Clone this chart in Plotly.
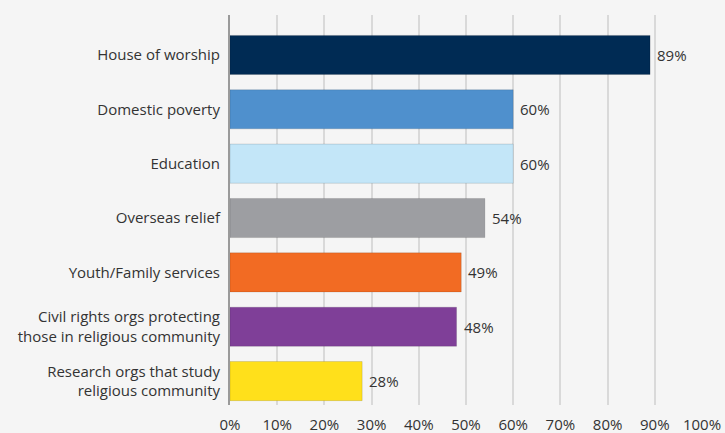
import plotly.graph_objects as go

categories = [
    "House of worship",
    "Domestic poverty",
    "Education",
    "Overseas relief",
    "Youth/Family services",
    "Civil rights orgs protecting<br>those in religious community",
    "Research orgs that study<br>religious community",
]
values = [89, 60, 60, 54, 49, 48, 28]
colors = ["#002b54", "#4f90cd", "#c3e6f8", "#9d9ea2", "#f26b23", "#7f3f98", "#ffe01b"]
x_ticks = [0, 10, 20, 30, 40, 50, 60, 70, 80, 90, 100]
x_tick_labels = [f"{t}%" for t in x_ticks]

positions = list(range(len(categories)))
FONT = "Open Sans, Liberation Sans, Arial, sans-serif"

fig = go.Figure(
    go.Bar(
        x=values,
        y=positions,
        orientation="h",
        marker=dict(color=colors, line=dict(color="rgba(0,0,0,0.12)", width=1)),
        width=0.72,
        hoverinfo="skip",
    )
)

# value labels just past the end of each bar
for pos, v in zip(positions, values):
    fig.add_annotation(
        x=v, y=pos, xref="x", yref="y",
        text=f"{v}%", showarrow=False,
        xanchor="left", yanchor="middle", xshift=5,
        font=dict(family=FONT, size=15, color="#333333"),
    )

fig.update_layout(
    width=725,
    height=433,
    margin=dict(l=230, r=23, t=15, b=28, autoexpand=False),
    paper_bgcolor="#f5f5f5",
    plot_bgcolor="#f5f5f5",
    showlegend=False,
    font=dict(family=FONT, size=15, color="#333333"),
    xaxis=dict(
        range=[0, 100],
        tickvals=x_ticks,
        ticktext=x_tick_labels,
        showgrid=True,
        gridcolor="#d9d9d9",
        gridwidth=2,
        zeroline=False,
        showline=False,
        ticks="",
        automargin=False,
        ticklabelstandoff=9,
        tickfont=dict(family=FONT, size=15, color="#333333"),
    ),
    yaxis=dict(
        range=[6.44, -0.735],
        tickvals=positions,
        ticktext=categories,
        showgrid=False,
        zeroline=False,
        showline=True,
        linecolor="#9a9a9a",
        linewidth=2,
        ticks="",
        automargin=False,
        ticklabelstandoff=5,
        tickfont=dict(family=FONT, size=15, color="#333333"),
    ),
)

fig.write_html("out.html")
